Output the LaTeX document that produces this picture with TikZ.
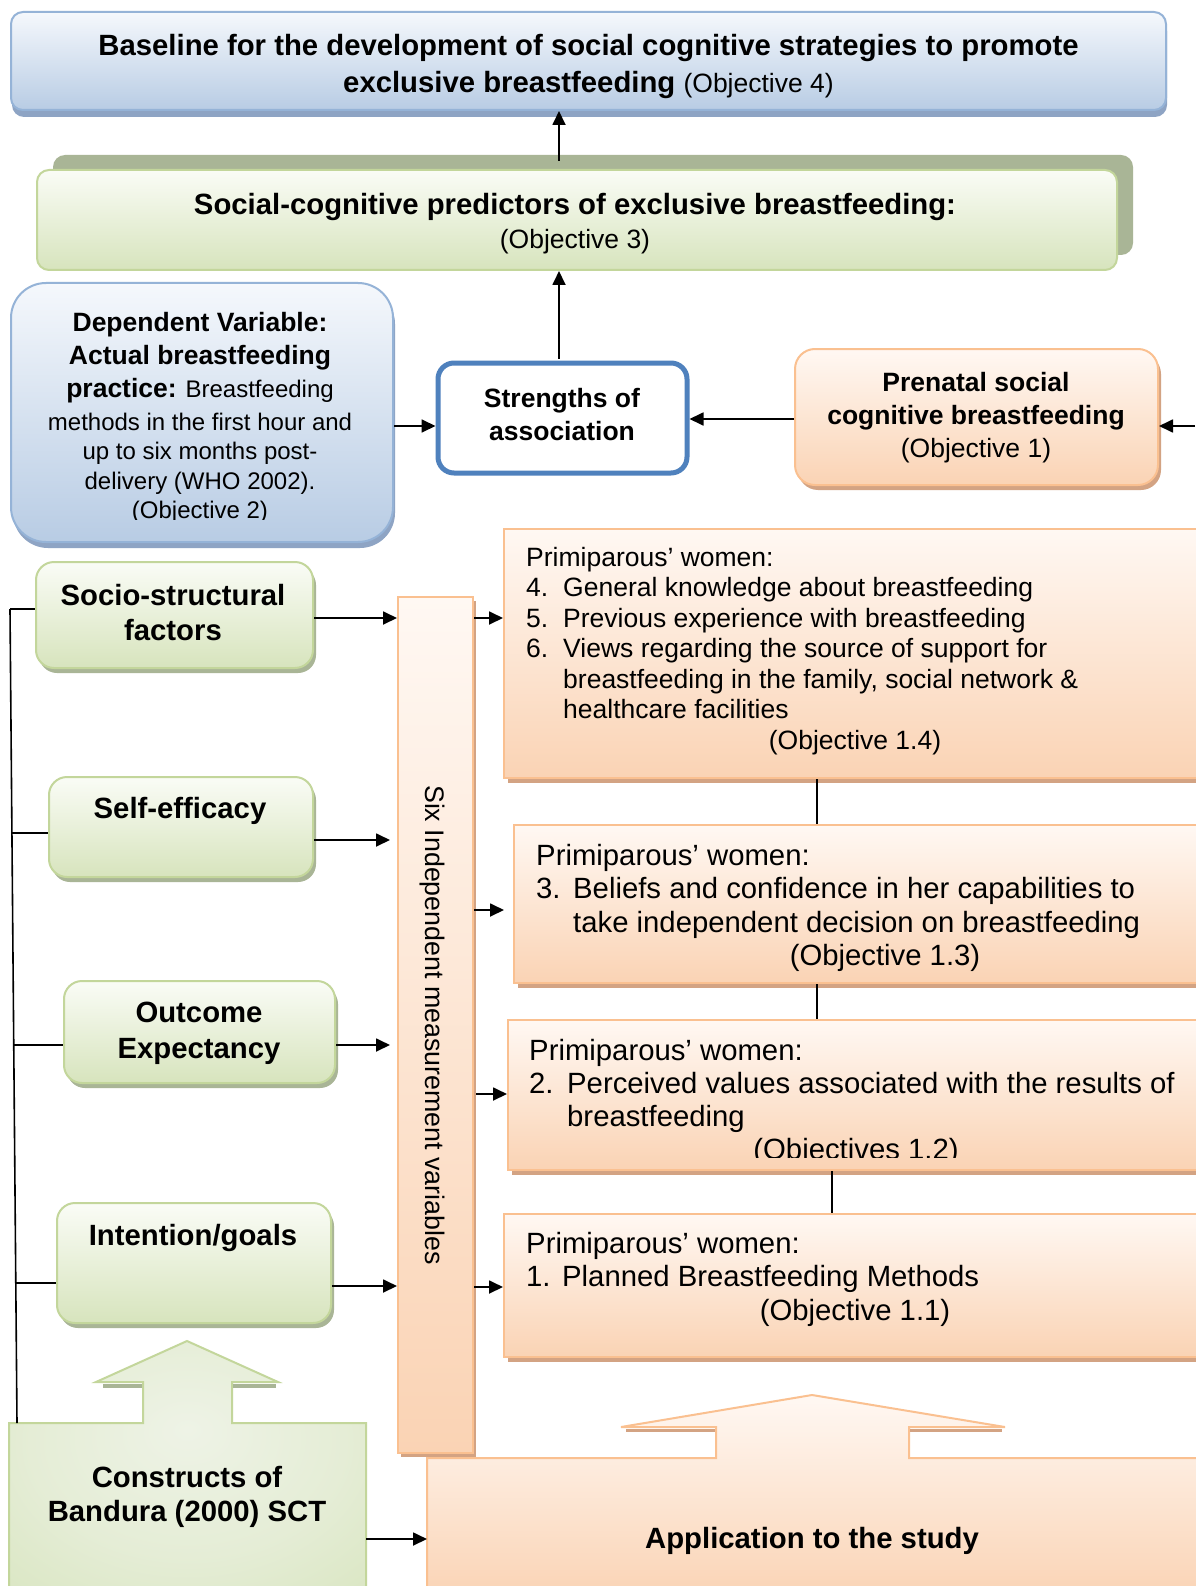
\documentclass[tikz,border=0pt]{standalone}
\usepackage{fontspec}
\setmainfont{Liberation Sans}
\usetikzlibrary{arrows.meta,shadows,calc}
\definecolor{blueTop}{HTML}{F5F8FC}
\definecolor{blueBot}{HTML}{B8CCE4}
\definecolor{blueLine}{HTML}{95B3D7}
\definecolor{blueShd}{HTML}{8EA4C4}
\definecolor{greenTop}{HTML}{FAFCF6}
\definecolor{greenBot}{HTML}{D7E4BD}
\definecolor{greenLine}{HTML}{C3D69B}
\definecolor{greenShd}{HTML}{A9B596}
\definecolor{greenIn}{HTML}{EEF3E6}
\definecolor{greenMidA}{HTML}{E5EDD6}
\definecolor{greenMidB}{HTML}{D3E2B7}
\definecolor{greenOut}{HTML}{C3D69B}
\definecolor{orTop}{HTML}{FFF8F3}
\definecolor{orBot}{HTML}{FAD3B4}
\definecolor{orLine}{HTML}{FAC090}
\definecolor{orShd}{HTML}{D3A383}
\definecolor{strBlue}{HTML}{4F81BD}
\pgfdeclareradialshading{consShade}{\pgfpoint{0bp}{8bp}}{color(0bp)=(greenIn); color(22bp)=(greenMidA); color(48bp)=(greenMidB); color(70bp)=(greenOut)}
\begin{document}
\begin{tikzpicture}[x=1pt,y=-1pt,
  arr/.style={line width=1.8pt,-{Triangle[length=14pt,width=13pt]}},
  conn/.style={line width=1.3pt},
  bbox/.style={draw=blueLine,line width=2pt,top color=blueTop,bottom color=blueBot,inner sep=0pt},
  gbox/.style={draw=greenLine,line width=2pt,top color=greenTop,bottom color=greenBot,inner sep=0pt},
  obox/.style={draw=orLine,line width=2pt,top color=orTop,bottom color=orBot,inner sep=0pt},
  bshd/.style={drop shadow={shadow xshift=2pt,shadow yshift=-6pt,fill=blueShd,opacity=1}},
  gshd/.style={drop shadow={shadow xshift=3pt,shadow yshift=-5pt,fill=greenShd,opacity=1}},
  oshd/.style={drop shadow={shadow xshift=4pt,shadow yshift=-5pt,fill=orShd,opacity=1}},
  txt/.style={inner sep=0pt,align=center},
  ltxt/.style={inner sep=0pt,align=left,anchor=north west}]
\useasboundingbox (0,0) rectangle (1195,1586);
\fill[white] (0,0) rectangle (1195,1586);

% ---------- top boxes ----------
\node[bbox,rounded corners=12pt,minimum width=1155pt,minimum height=98pt,
  drop shadow={shadow xshift=1pt,shadow yshift=-7pt,fill=blueShd,opacity=1}] (topb) at (588.5,61) {};
\node[txt,anchor=north,font=\fontsize{29.3}{37}\selectfont\bfseries] (topt) at (588.5,34)
  {Baseline for the development of social cognitive strategies to promote\\
   exclusive breastfeeding {\mdseries\fontsize{26.5}{37}\selectfont(Objective 4)}};

\node[gbox,rounded corners=12pt,minimum width=1080pt,minimum height=100pt,
  drop shadow={shadow xshift=16pt,shadow yshift=15pt,fill=greenShd,opacity=1}] (pred) at (577,220) {};
\node[txt,anchor=north,font=\fontsize{29.3}{34}\selectfont\bfseries] (predt) at (575,193)
  {Social-cognitive predictors of exclusive breastfeeding:\\
   {\mdseries\fontsize{26.5}{34}\selectfont(Objective 3)}};

% ---------- middle row ----------
\node[bbox,bshd,rounded corners=35pt,minimum width=382pt,minimum height=259pt] (dep) at (202,412.5) {};
\begin{scope}
\clip (0,290) rectangle (400,519);
\node[txt,anchor=north,font=\fontsize{24}{29.5}\selectfont] (dept) at (200,312)
  {{\bfseries\fontsize{26.5}{33}\selectfont Dependent Variable:}\\[3.5pt]
   {\bfseries\fontsize{26.5}{33}\selectfont Actual breastfeeding}\\[3.5pt]
   {\bfseries\fontsize{26.5}{33}\selectfont practice:} Breastfeeding\\[3.5pt]
   methods in the first hour and\\
   up to six months post-\\
   delivery (WHO 2002).\\
   (Objective 2)};
\end{scope}

\node[draw=strBlue,line width=5pt,fill=white,rounded corners=16pt,inner sep=0pt,
  minimum width=249pt,minimum height=110pt] (str) at (562.5,418) {};
\node[txt,anchor=north,font=\fontsize{26.5}{33}\selectfont\bfseries] (strt) at (562,388)
  {Strengths of\\association};

\node[obox,rounded corners=20pt,minimum width=363pt,minimum height=136pt,
  drop shadow={shadow xshift=3pt,shadow yshift=-5pt,fill=orShd,opacity=1}] (pren) at (976.5,417) {};
\node[txt,anchor=north,font=\fontsize{26.5}{33}\selectfont\bfseries] (prent) at (976,372)
  {Prenatal social\\cognitive breastfeeding\\{\mdseries(Objective 1)}};

% ---------- left column ----------
\node[gbox,gshd,rounded corners=18pt,minimum width=277pt,minimum height=106pt] (socio) at (174.5,615) {};
\node[txt,anchor=north,font=\fontsize{29.3}{35}\selectfont\bfseries] (sociot) at (173,584)
  {Socio-structural\\factors};
\node[gbox,gshd,rounded corners=18pt,minimum width=264pt,minimum height=100pt] (self) at (181,827) {};
\node[txt,anchor=north,font=\fontsize{29.3}{35}\selectfont\bfseries] (selft) at (180,797)
  {Self-efficacy};
\node[gbox,gshd,rounded corners=18pt,minimum width=271pt,minimum height=102pt] (outc) at (199.5,1032) {};
\node[txt,anchor=north,font=\fontsize{29.3}{36}\selectfont\bfseries] (outct) at (199,1002)
  {Outcome\\Expectancy};
\node[gbox,gshd,rounded corners=18pt,minimum width=274pt,minimum height=120pt] (intn) at (194,1263) {};
\node[txt,anchor=north,font=\fontsize{29.3}{35}\selectfont\bfseries] (intnt) at (193,1224)
  {Intention/goals};

% ---------- vertical bar ----------
\node[obox,drop shadow={shadow xshift=3pt,shadow yshift=-4pt,fill=orShd,opacity=1},
  minimum width=75pt,minimum height=856pt] (bar) at (435.5,1025) {};
\node[txt,rotate=-90,font=\fontsize{26.8}{30}\selectfont] (bart) at (432,1025)
  {Six Independent measurement variables};

% ---------- right boxes ----------
\node[obox,oshd,minimum width=701pt,minimum height=249pt] (b14) at (854.5,653.5) {};
\node[ltxt,font=\fontsize{26.5}{30.5}\selectfont] (b14t) at (526,547)
  {Primiparous’ women:\\
   \makebox[37pt][l]{4.}General knowledge about breastfeeding\\
   \makebox[37pt][l]{5.}Previous experience with breastfeeding\\
   \makebox[37pt][l]{6.}Views regarding the source of support for\\
   \makebox[37pt][l]{}breastfeeding in the family, social network \&\\
   \makebox[37pt][l]{}healthcare facilities};
\node[txt,anchor=north,font=\fontsize{26.5}{30.5}\selectfont] (o14) at (855,730) {(Objective 1.4)};

\node[obox,oshd,minimum width=691pt,minimum height=158pt] (b13) at (859.5,904) {};
\node[ltxt,font=\fontsize{29.3}{33.3}\selectfont] (b13t) at (536,844)
  {Primiparous’ women:\\
   \makebox[37pt][l]{3.}Beliefs and confidence in her capabilities to\\
   \makebox[37pt][l]{}take independent decision on breastfeeding};
\node[txt,anchor=north,font=\fontsize{29.3}{33}\selectfont] (o13) at (885,944) {(Objective 1.3)};

\node[obox,oshd,minimum width=697pt,minimum height=150pt] (b12) at (856.5,1095) {};
\node[ltxt,font=\fontsize{29.3}{33}\selectfont] (b12t) at (529,1039)
  {Primiparous’ women:\\
   \makebox[38pt][l]{2.}Perceived values associated with the results of\\
   \makebox[38pt][l]{}breastfeeding};
\begin{scope}
\clip (520,1120) rectangle (1195,1157);
\node[txt,anchor=north,font=\fontsize{29.3}{33}\selectfont] (o12) at (856,1138) {(Objectives 1.2)};
\end{scope}

\node[obox,oshd,minimum width=701pt,minimum height=143pt] (b11) at (854.5,1285.5) {};
\node[ltxt,font=\fontsize{29.3}{33.5}\selectfont] (b11t) at (526,1232)
  {Primiparous’ women:\\
   \makebox[36pt][l]{1.}Planned Breastfeeding Methods};
\node[txt,anchor=north,font=\fontsize{29.3}{33}\selectfont] (o11) at (855,1299) {(Objective 1.1)};

% ---------- bottom shapes ----------
\path[draw=greenLine,line width=2pt,shading=consShade]
  (9,1423) -- (143,1423) -- (143,1382) -- (96,1382) -- (187,1341) -- (278,1382)
  -- (232,1382) -- (232,1423) -- (366,1423) -- (366,1600) -- (9,1600) -- cycle;
\fill[greenShd] (103,1384) rectangle (142,1388);
\fill[greenShd] (233,1384) rectangle (276,1388);
\node[txt,anchor=north,font=\fontsize{29.3}{34}\selectfont\bfseries] (cons) at (187,1466)
  {Constructs of\\Bandura (2000) SCT};

\path[draw=orLine,line width=2pt,top color=orTop,bottom color=orBot]
  (427,1458) -- (716,1458) -- (716,1427) -- (621,1427) -- (812,1395) -- (1005,1427)
  -- (909,1427) -- (909,1458) -- (1210,1458) -- (1210,1600) -- (427,1600) -- cycle;
\fill[orShd] (626,1429) rectangle (715,1432);
\fill[orShd] (910,1429) rectangle (1002,1432);
\node[txt,anchor=north,font=\fontsize{29.3}{34}\selectfont\bfseries] (appl) at (812,1527)
  {Application to the study};

% ---------- connectors ----------
\draw[arr] ($(pred.north)+(-18,-8)$) coordinate (p1) -- (p1 |- topb.south);
\draw[arr] ($(str.north)+(-3.5,-2)$) coordinate (p2) -- (p2 |- pred.south);
\draw[arr] ($(dep.east)+(0,13.5)$) coordinate (p3) -- (p3 -| str.west);
\draw[arr] ($(pren.west)+(0,2)$) coordinate (p4) -- (p4 -| str.east);
\coordinate (rin) at (1195,426);
\draw[arr] (rin) -- (rin -| pren.east);

\coordinate (vt) at (10,609);
\coordinate (vb) at (17,1423);
\draw[conn,line width=1.6pt] (vt) -- (vb);
\coordinate (v2) at ($(vt)!0.275!(vb)$);
\coordinate (v3) at ($(vt)!0.5356!(vb)$);
\coordinate (v4) at ($(vt)!0.828!(vb)$);
\draw[conn,line width=1.6pt] (vt) -- (vt -| socio.west);
\draw[conn,line width=1.6pt] (v2) -- (v2 -| self.west);
\draw[conn,line width=1.6pt] (v3) -- (v3 -| outc.west);
\draw[conn,line width=1.6pt] (v4) -- (v4 -| intn.west);

\draw[arr] ($(socio.east)+(0,3)$) coordinate (s1) -- (s1 -| bar.west);
\draw[arr,shorten >=7pt] ($(self.east)+(0,13)$) coordinate (s2) -- (s2 -| bar.west);
\draw[arr,shorten >=7pt] ($(outc.east)+(0,13)$) coordinate (s3) -- (s3 -| bar.west);
\draw[arr] ($(intn.east)+(0,23)$) coordinate (s4) -- (s4 -| bar.west);

\draw[arr] ($(bar.east)+(0,-407)$) coordinate (r1) -- (r1 -| b14.west);
\draw[arr,shorten >=9pt] ($(bar.east)+(0,-115)$) coordinate (r2) -- (r2 -| b13.west);
\draw[arr] ($(bar.east)+(2,69)$) coordinate (r3) -- (r3 -| b12.west);
\draw[arr] ($(bar.east)+(0,262)$) coordinate (r4) -- (r4 -| b11.west);

\coordinate (k1) at (817,0);
\coordinate (k2) at (832,0);
\draw[conn] (b14.south -| k1) -- (b13.north -| k1);
\draw[conn] (b13.south -| k1) -- (b12.north -| k1);
\draw[conn] (b12.south -| k2) -- (b11.north -| k2);

\coordinate (cr) at (366,1539);
\coordinate (al) at (427,1539);
\draw[arr] (cr) -- (al);
\end{tikzpicture}
\end{document}
